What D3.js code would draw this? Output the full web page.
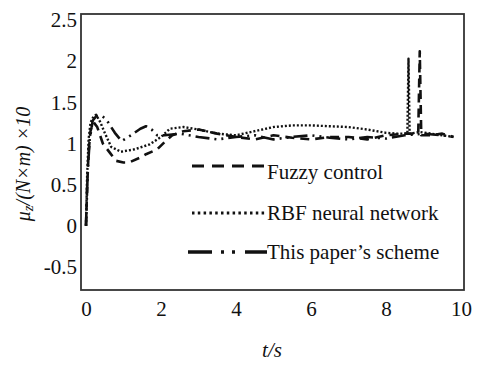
<!DOCTYPE html>
<html>
<head>
<meta charset="utf-8">
<script src="https://cdn.jsdelivr.net/npm/d3@7/dist/d3.min.js"></script>
<style>
  html, body { margin: 0; padding: 0; background: #fff; }
  svg text { font-family: "Liberation Serif", "Times New Roman", Tinos, "DejaVu Serif", "Noto Serif", serif; fill: #111; }
</style>
</head>
<body>
<svg id="chart" width="482" height="365"></svg>
<script>
// Time samples (s) and friction-coefficient response (×10) for each controller
const fuzzyT = [0, 0.03, 0.07, 0.12, 0.2, 0.3, 0.45, 0.65, 0.8, 1.0, 1.15, 1.45, 1.6, 1.9, 2.1, 2.3, 2.6, 3.0, 3.5, 4.0, 4.5, 5.0, 5.5, 6.0, 6.5, 7.0, 7.5, 8.0, 8.5, 8.86, 8.9, 8.94, 9.2, 9.5, 9.8];
const fuzzyV = [0, 0.45, 0.9, 1.15, 1.26, 1.2, 1.0, 0.88, 0.79, 0.77, 0.77, 0.83, 0.87, 0.93, 1.02, 1.1, 1.15, 1.17, 1.12, 1.08, 1.05, 1.1, 1.07, 1.05, 1.08, 1.08, 1.05, 1.1, 1.12, 1.12, 2.12, 1.1, 1.1, 1.12, 1.08];

const rbfT = [0, 0.03, 0.07, 0.12, 0.2, 0.27, 0.38, 0.5, 0.67, 0.93, 1.3, 1.7, 2.0, 2.24, 2.6, 3.0, 3.5, 4.0, 4.5, 5.0, 5.5, 6.0, 6.5, 7.0, 7.5, 8.0, 8.3, 8.57, 8.6, 8.63, 8.9, 9.2, 9.5, 9.8];
const rbfV = [0, 0.6, 1.05, 1.25, 1.33, 1.35, 1.26, 1.13, 0.96, 0.9, 0.93, 0.99, 1.08, 1.18, 1.2, 1.17, 1.12, 1.1, 1.15, 1.2, 1.22, 1.22, 1.21, 1.2, 1.17, 1.13, 1.12, 1.12, 2.03, 1.12, 1.14, 1.12, 1.1, 1.08];

const oursT = [0, 0.02, 0.05, 0.1, 0.18, 0.27, 0.4, 0.53, 0.77, 0.95, 1.2, 1.45, 1.6, 1.75, 1.9, 2.1, 2.5, 3.0, 3.5, 4.0, 4.5, 5.0, 5.5, 6.0, 6.5, 7.0, 7.5, 8.0, 8.5, 9.0, 9.5, 9.8];
const oursV = [0, 0.3, 0.7, 1.05, 1.28, 1.33, 1.34, 1.3, 1.13, 1.03, 1.1, 1.18, 1.21, 1.17, 1.1, 1.1, 1.12, 1.08, 1.05, 1.08, 1.1, 1.05, 1.08, 1.1, 1.07, 1.05, 1.08, 1.06, 1.1, 1.12, 1.1, 1.08];

const xTicks = [0, 2, 4, 6, 8, 10];
const yTicks = [-0.5, 0, 0.5, 1, 1.5, 2, 2.5];
const seriesNames = ["Fuzzy control", "RBF neural network", "This paper\u2019s scheme"];

const svg = d3.select("#chart");
const plotLeft = 81, plotRight = 464, plotTop = 14, plotBottom = 290;

const x = d3.scaleLinear().domain([-0.133, 10.08]).range([plotLeft, plotRight]);
const y = d3.scaleLinear().domain([-0.779, 2.573]).range([plotBottom, plotTop]);

// Axes: labels only, the frame is drawn as a box
const gx = svg.append("g").attr("transform", `translate(0,${plotBottom})`)
  .call(d3.axisBottom(x).tickValues(xTicks).tickSize(0).tickPadding(11).tickFormat(d3.format("d")));
const gy = svg.append("g").attr("transform", `translate(${plotLeft},0)`)
  .call(d3.axisLeft(y).tickValues(yTicks).tickSize(0).tickPadding(4).tickFormat(d => String(d)));
[gx, gy].forEach(g => {
  g.attr("font-family", null);
  g.select(".domain").remove();
  g.selectAll("text").attr("font-size", 21).attr("fill", "#111");
});

svg.append("rect")
  .attr("x", plotLeft).attr("y", plotTop)
  .attr("width", plotRight - plotLeft).attr("height", plotBottom - plotTop)
  .attr("fill", "none").attr("stroke", "#333").attr("stroke-width", 1.8);

const styles = [
  { t: fuzzyT, v: fuzzyV, dash: "9,6", w: 2.6, legendDash: "12,8", legendW: 3.2 },
  { t: rbfT, v: rbfV, dash: "2,2", w: 2.4, legendDash: "2.5,3.3", legendW: 3 },
  { t: oursT, v: oursV, dash: "14,5,2,5,2,5", w: 2.6, legendDash: "24,9,3,8,3,10", legendW: 3.4 }
];

const line = d3.line().x(d => x(d[0])).y(d => y(d[1]));
const plot = svg.append("g");
styles.forEach(s => {
  plot.append("path")
    .datum(s.t.map((t, i) => [t, s.v[i]]))
    .attr("d", line)
    .attr("fill", "none")
    .attr("stroke", "#111")
    .attr("stroke-width", s.w)
    .attr("stroke-dasharray", s.dash)
    .attr("stroke-linejoin", "round");
});

// Legend
const legendRows = [
  { x1: 192, x2: 267, ly: 166, ty: 179 },
  { x1: 192, x2: 266, ly: 213, ty: 220 },
  { x1: 188, x2: 267, ly: 252, ty: 259 }
];
legendRows.forEach((r, i) => {
  svg.append("line")
    .attr("x1", r.x1).attr("x2", r.x2).attr("y1", r.ly).attr("y2", r.ly)
    .attr("stroke", "#111").attr("stroke-width", styles[i].legendW)
    .attr("stroke-dasharray", styles[i].legendDash);
  svg.append("text")
    .attr("x", 267).attr("y", r.ty)
    .attr("font-size", 21)
    .text(seriesNames[i]);
});

// Axis titles
svg.append("text")
  .attr("x", 272).attr("y", 357)
  .attr("text-anchor", "middle")
  .attr("font-size", 21).attr("font-style", "italic")
  .text("t/s");

const yl = svg.append("text")
  .attr("transform", "translate(30,164) rotate(-90)")
  .attr("text-anchor", "middle")
  .attr("font-size", 20).attr("font-style", "italic");
yl.append("tspan").text("\u03bc");
yl.append("tspan").attr("font-size", 15).attr("dy", 3).text("z");
yl.append("tspan").attr("dy", -3).text("/(N\u00d7m) \u00d710");
</script>
</body>
</html>
